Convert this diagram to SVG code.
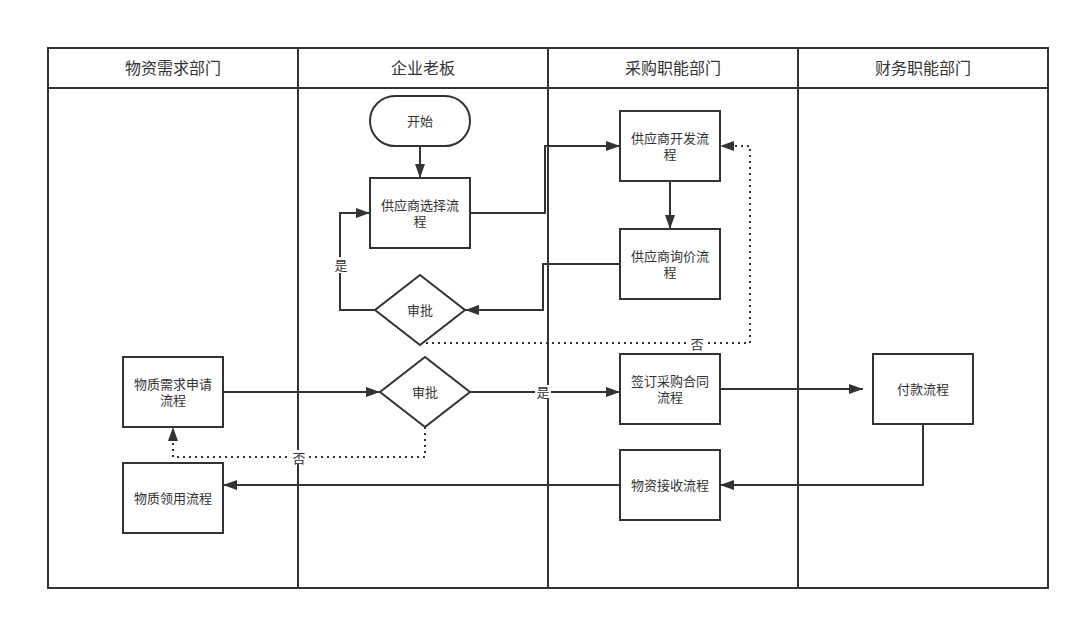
<svg xmlns="http://www.w3.org/2000/svg" width="1080" height="620" viewBox="0 0 1080 620">
<defs>
<style>
.t{font-family:"Liberation Sans","Noto Sans CJK SC",sans-serif;font-size:13px;fill:#333;text-anchor:middle;dominant-baseline:central}
.h{font-family:"Liberation Sans","Noto Sans CJK SC",sans-serif;font-size:16px;fill:#333;text-anchor:middle;dominant-baseline:central}
.s{fill:#fff;stroke:#333;stroke-width:2}
.c{fill:none;stroke:#333;stroke-width:2}
.d{fill:none;stroke:#333;stroke-width:2;stroke-dasharray:2 4}
.lb{fill:#fff}
</style>
<marker id="a" markerWidth="14" markerHeight="10" refX="14" refY="5" orient="auto" markerUnits="userSpaceOnUse">
<path d="M0,0 L14,5 L0,10 Z" fill="#333"/>
</marker>
</defs>
<rect width="1080" height="620" fill="#fff"/>
<g id="lanes">
<rect x="48" y="48" width="1000" height="540" fill="none" stroke="#333" stroke-width="2"/>
<line x1="48" y1="88" x2="1048" y2="88" stroke="#333" stroke-width="2"/>
<line x1="298" y1="48" x2="298" y2="588" stroke="#333" stroke-width="2"/>
<line x1="548" y1="48" x2="548" y2="588" stroke="#333" stroke-width="2"/>
<line x1="798" y1="48" x2="798" y2="588" stroke="#333" stroke-width="2"/>
<text class="h" x="173" y="68">物资需求部门</text>
<text class="h" x="423" y="68">企业老板</text>
<text class="h" x="673" y="68">采购职能部门</text>
<text class="h" x="923" y="68">财务职能部门</text>
</g>
<g id="connectors">
<path class="c" d="M420,146 V178" marker-end="url(#a)"/>
<path class="c" d="M470,213 H545 V146 H620" marker-end="url(#a)"/>
<path class="c" d="M670,181 V229" marker-end="url(#a)"/>
<path class="c" d="M620,264 H543 V310 H465" marker-end="url(#a)"/>
<path class="c" d="M375,310 H340 V213 H370" marker-end="url(#a)"/>
<path class="d" d="M420,343 H750 V146 H720" marker-end="url(#a)"/>
<path class="c" d="M223,392 H380" marker-end="url(#a)"/>
<path class="c" d="M470,392 H620" marker-end="url(#a)"/>
<path class="d" d="M425,427 V457 H173 V427" marker-end="url(#a)"/>
<path class="c" d="M720,389 H863" marker-end="url(#a)"/>
<path class="c" d="M923,424 V485 H720" marker-end="url(#a)"/>
<path class="c" d="M620,485 H223" marker-end="url(#a)"/>
<rect class="lb" x="333" y="257" width="16" height="16"/>
<text class="t" x="341" y="265">是</text>
<rect class="lb" x="689" y="336" width="16" height="14"/>
<text class="t" x="697" y="344">否</text>
<rect class="lb" x="535" y="385" width="16" height="14"/>
<text class="t" x="543" y="392">是</text>
<rect class="lb" x="291" y="450" width="16" height="14"/>
<text class="t" x="299" y="458">否</text>
</g>
<g id="start"><rect class="s" x="370" y="96" width="100" height="50" rx="25"/><text class="t" x="420" y="121">开始</text></g>
<g id="select"><rect class="s" x="370" y="178" width="100" height="70"/><text class="t" x="420" y="205">供应商选择流</text><text class="t" x="420" y="221">程</text></g>
<g id="approve1"><path class="s" d="M420,275 L465,310 L420,345 L375,310 Z"/><text class="t" x="420" y="310">审批</text></g>
<g id="develop"><rect class="s" x="620" y="111" width="100" height="70"/><text class="t" x="670" y="138">供应商开发流</text><text class="t" x="670" y="154">程</text></g>
<g id="inquiry"><rect class="s" x="620" y="229" width="100" height="70"/><text class="t" x="670" y="256">供应商询价流</text><text class="t" x="670" y="272">程</text></g>
<g id="request"><rect class="s" x="123" y="357" width="100" height="70"/><text class="t" x="173" y="384">物质需求申请</text><text class="t" x="173" y="400">流程</text></g>
<g id="approve2"><path class="s" d="M425,357 L470,392 L425,427 L380,392 Z"/><text class="t" x="425" y="392">审批</text></g>
<g id="contract"><rect class="s" x="620" y="354" width="100" height="70"/><text class="t" x="670" y="381">签订采购合同</text><text class="t" x="670" y="397">流程</text></g>
<g id="payment"><rect class="s" x="873" y="354" width="100" height="70"/><text class="t" x="923" y="389">付款流程</text></g>
<g id="receive"><rect class="s" x="620" y="450" width="100" height="70"/><text class="t" x="670" y="485">物资接收流程</text></g>
<g id="use"><rect class="s" x="123" y="463" width="100" height="70"/><text class="t" x="173" y="498">物质领用流程</text></g>
</svg>
